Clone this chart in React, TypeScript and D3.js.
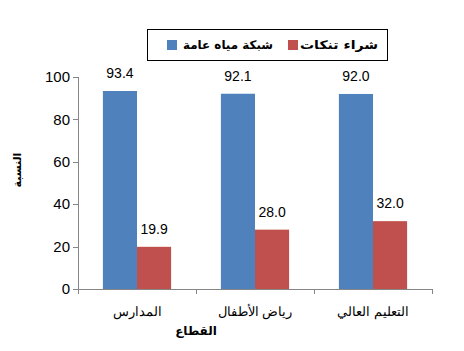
import React, { useEffect, useRef } from 'react';
import * as d3 from 'd3';

const categories = ['المدارس', 'رياض الأطفال', 'التعليم العالي'];
const seriesNames = ['شبكة مياه عامة', 'شراء تنكات'];
const waterNetwork = [93.4, 92.1, 92.0];
const tankerPurchase = [19.9, 28.0, 32.0];
const yTicks = [0, 20, 40, 60, 80, 100];
const colors = ['#4F81BD', '#C0504D'];

const App = () => {
  const svgRef = useRef<SVGSVGElement>(null);

  useEffect(() => {
    const width = 464;
    const height = 351;
    const svg = d3.select(svgRef.current);
    svg.selectAll('*').remove();
    svg.attr('width', width).attr('height', height);

    const left = 78, right = 432, top = 77, bottom = 289;
    const x = d3.scaleBand<string>().domain(categories).range([left, right]);
    const inner = d3.scaleBand<number>().domain([0, 1]).range([0, x.bandwidth()]).paddingOuter(0.73).paddingInner(0);
    const y = d3.scaleLinear().domain([0, 100]).range([bottom, top]);

    const axisColor = '#868686';

    // y axis
    svg.append('line').attr('x1', left + 0.5).attr('x2', left + 0.5).attr('y1', top).attr('y2', bottom)
      .attr('stroke', axisColor);
    yTicks.forEach(t => {
      svg.append('line').attr('x1', left - 5).attr('x2', left).attr('y1', Math.round(y(t)) + 0.5).attr('y2', Math.round(y(t)) + 0.5)
        .attr('stroke', axisColor);
      svg.append('text').attr('x', 70).attr('y', y(t)).attr('dy', '0.35em')
        .attr('text-anchor', 'end').style('font-family', 'Liberation Sans, Arial').style('font-size', '15px')
        .text(t);
    });

    // bars
    const data = [waterNetwork, tankerPurchase];
    data.forEach((vals, si) => {
      vals.forEach((v, ci) => {
        const bx = x(categories[ci])! + inner(si)!;
        svg.append('rect').attr('x', bx).attr('y', y(v)).attr('width', inner.bandwidth()).attr('height', bottom - y(v))
          .attr('fill', colors[si]);
        svg.append('text').attr('x', bx + inner.bandwidth() / 2).attr('y', y(v) - 13)
          .attr('text-anchor', 'middle').style('font-family', 'Liberation Sans, Arial').style('font-size', '14px')
          .text(v.toFixed(1));
      });
    });

    // x axis
    svg.append('line').attr('x1', left).attr('x2', right).attr('y1', bottom + 0.5).attr('y2', bottom + 0.5)
      .attr('stroke', axisColor);
    [left, ...categories.map(c => x(c)! + x.bandwidth())].forEach(px => {
      svg.append('line').attr('x1', Math.round(px) + 0.5).attr('x2', Math.round(px) + 0.5).attr('y1', bottom).attr('y2', bottom + 5)
        .attr('stroke', axisColor);
    });
    categories.forEach(c => {
      svg.append('text').attr('x', x(c)! + x.bandwidth() / 2).attr('y', 316)
        .attr('text-anchor', 'middle').style('font-family', 'Liberation Serif, Times New Roman').style('font-size', '13px')
        .text(c);
    });

    // axis titles
    svg.append('text').attr('x', 196).attr('y', 335).attr('text-anchor', 'middle')
      .style('font-family', 'DejaVu Sans, Arial').style('font-size', '12px').style('font-weight', 'bold').text('القطاع');
    svg.append('text').attr('transform', 'translate(21,170) rotate(-90)').attr('text-anchor', 'middle')
      .style('font-family', 'DejaVu Sans, Arial').style('font-size', '11px').style('font-weight', 'bold').text('النسبة');

    // legend
    svg.append('rect').attr('x', 147.5).attr('y', 29.5).attr('width', 240).attr('height', 31)
      .attr('fill', 'white').attr('stroke', 'black');
    const legendItems = [
      { name: seriesNames[0], color: colors[0], sx: 167, tx: 273, w: 90 },
      { name: seriesNames[1], color: colors[1], sx: 288, tx: 378, w: 78 },
    ];
    legendItems.forEach(it => {
      svg.append('rect').attr('x', it.sx).attr('y', 40).attr('width', 10).attr('height', 10).attr('fill', it.color);
      svg.append('text').attr('x', it.tx).attr('y', 45).attr('dy', '0.35em').attr('text-anchor', 'end')
        .style('font-family', 'DejaVu Sans, Arial').style('font-size', '12px').style('font-weight', 'bold')
        .attr('textLength', it.w).attr('lengthAdjust', 'spacingAndGlyphs')
        .text(it.name);
    });
  }, []);

  return <svg ref={svgRef} style={{ position: 'absolute', left: 0, top: 0 }}></svg>;
};

export default App;
